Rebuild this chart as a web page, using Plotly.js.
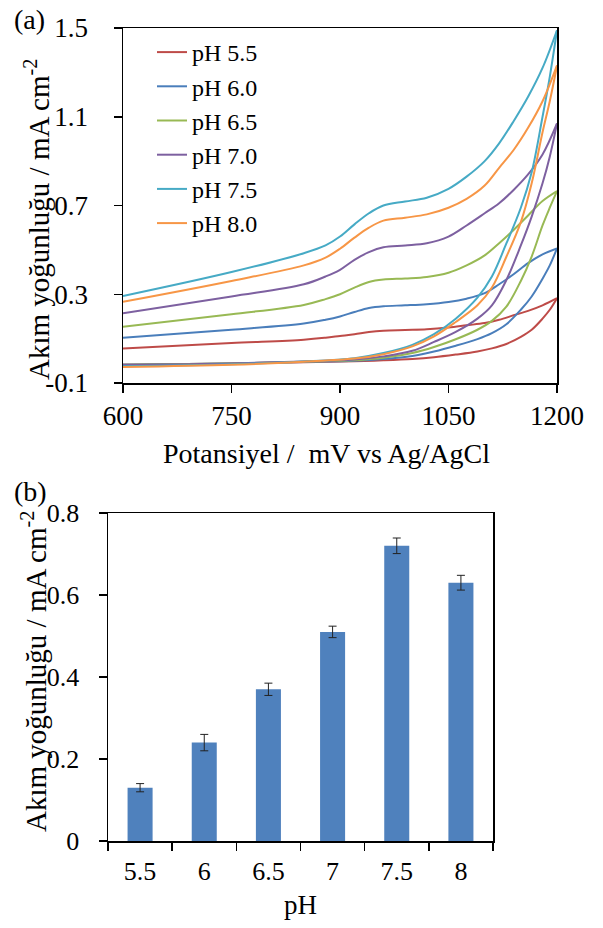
<!DOCTYPE html>
<html>
<head>
<meta charset="utf-8">
<script src="https://cdn.plot.ly/plotly-3.0.1.min.js"></script>
<style>html,body{margin:0;padding:0;background:#fff;}#chart{width:603px;height:928px;}</style>
</head>
<body>
<div id="chart"></div>
<script>
// ---- Panel (a): cyclic voltammograms (forward scan 600->1200, reverse scan 1200->600) ----
const phLabels = ['pH 5.5', 'pH 6.0', 'pH 6.5', 'pH 7.0', 'pH 7.5', 'pH 8.0'];
const fwdPotential = [600, 750, 850, 920, 960, 1000, 1030, 1060, 1090, 1110, 1130, 1150, 1165, 1180, 1190, 1200];
const revPotential = [1200, 1180, 1160, 1140, 1120, 1100, 1075, 1050, 1020, 990, 960, 940, 920, 900, 880, 850, 750, 600];

const fwd55 = [-0.018, -0.012, -0.006, -0.002, 0.002, 0.008, 0.016, 0.028, 0.042, 0.056, 0.076, 0.108, 0.14, 0.19, 0.23, 0.282];
const fwd60 = [-0.018, -0.012, -0.005, 0.0, 0.008, 0.022, 0.042, 0.068, 0.098, 0.125, 0.165, 0.23, 0.29, 0.37, 0.43, 0.507];
const fwd65 = [-0.018, -0.012, -0.004, 0.003, 0.014, 0.035, 0.062, 0.097, 0.14, 0.18, 0.244, 0.36, 0.47, 0.61, 0.69, 0.765];
const fwd70 = [-0.018, -0.012, -0.003, 0.006, 0.02, 0.045, 0.085, 0.13, 0.19, 0.25, 0.364, 0.52, 0.65, 0.8, 0.92, 1.07];
const fwd75 = [-0.024, -0.015, -0.003, 0.012, 0.035, 0.072, 0.12, 0.19, 0.285, 0.38, 0.529, 0.69, 0.85, 1.1, 1.28, 1.49];
const fwd80 = [-0.028, -0.018, -0.004, 0.01, 0.03, 0.065, 0.11, 0.175, 0.25, 0.33, 0.469, 0.625, 0.8, 1.03, 1.17, 1.33];

const rev55 = [0.282, 0.25, 0.225, 0.205, 0.185, 0.17, 0.16, 0.15, 0.142, 0.139, 0.136, 0.13, 0.12, 0.112, 0.104, 0.095, 0.08, 0.056];
const rev60 = [0.507, 0.48, 0.44, 0.39, 0.345, 0.305, 0.28, 0.265, 0.255, 0.25, 0.246, 0.238, 0.22, 0.2, 0.185, 0.168, 0.14, 0.104];
const rev65 = [0.765, 0.72, 0.655, 0.59, 0.53, 0.475, 0.43, 0.397, 0.378, 0.371, 0.366, 0.355, 0.33, 0.3, 0.278, 0.252, 0.21, 0.154];
const rev70 = [1.07, 0.93, 0.84, 0.77, 0.71, 0.665, 0.61, 0.56, 0.53, 0.52, 0.512, 0.49, 0.455, 0.41, 0.38, 0.345, 0.29, 0.214];
const rev75 = [1.49, 1.32, 1.19, 1.08, 0.98, 0.9, 0.83, 0.775, 0.735, 0.718, 0.7, 0.665, 0.615, 0.56, 0.52, 0.485, 0.4, 0.292];
const rev80 = [1.332, 1.17, 1.05, 0.95, 0.87, 0.79, 0.73, 0.69, 0.66, 0.645, 0.632, 0.6, 0.555, 0.505, 0.465, 0.43, 0.36, 0.266];

const xTickVals = [600, 750, 900, 1050, 1200];
const yTickVals = [-0.1, 0.3, 0.7, 1.1, 1.5];
const yTickText = ['-0.1', '0.3', '0.7', '1.1', '1.5'];

// ---- Panel (b): current density vs pH ----
const phCategories = ['5.5', '6', '6.5', '7', '7.5', '8'];
const peakCurrent = [0.13, 0.24, 0.37, 0.51, 0.72, 0.63];
const peakError = [0.01, 0.02, 0.015, 0.014, 0.019, 0.018];

const colors = ['#BE4B48', '#4A7EBB', '#98B954', '#7D60A0', '#46AAC5', '#F79646'];
const fwdSets = [fwd55, fwd60, fwd65, fwd70, fwd75, fwd80];
const revSets = [rev55, rev60, rev65, rev70, rev75, rev80];

const FONT = 'Liberation Serif, Times New Roman, serif';
const traces = [];
phLabels.forEach((lab, i) => {
  traces.push({
    x: fwdPotential, y: fwdSets[i], type: 'scatter', mode: 'lines',
    name: lab, legendgroup: lab, showlegend: true,
    line: {color: colors[i], width: 2, shape: 'spline', smoothing: 1},
    xaxis: 'x', yaxis: 'y'
  });
  traces.push({
    x: revPotential, y: revSets[i], type: 'scatter', mode: 'lines',
    name: lab, legendgroup: lab, showlegend: false,
    line: {color: colors[i], width: 2, shape: 'spline', smoothing: 1},
    xaxis: 'x', yaxis: 'y'
  });
});
traces.push({
  x: phCategories, y: peakCurrent, type: 'bar', showlegend: false,
  marker: {color: '#4F81BD'},
  error_y: {type: 'data', array: peakError, visible: true, color: '#222', thickness: 1, width: 4},
  xaxis: 'x2', yaxis: 'y2'
});

const W = 603, H = 928;
const axBase = {
  showgrid: false, zeroline: false, showline: true, linecolor: '#000', linewidth: 1.5,
  mirror: true, ticks: 'outside', ticklen: 8, tickwidth: 1.5, tickcolor: '#000',
  automargin: false
};
const yTitleText = 'Akım yoğunluğu / mA cm<sup>-2</sup>';

const layout = {
  width: W, height: H,
  margin: {l: 0, r: 0, t: 0, b: 0},
  paper_bgcolor: '#fff', plot_bgcolor: '#fff',
  font: {family: FONT, color: '#000'},
  showlegend: true,
  legend: {x: 152/W, y: 1 - 30/H, xanchor: 'left', yanchor: 'top', bgcolor: 'rgba(0,0,0,0)',
           font: {family: FONT, size: 24, color: '#000'}, tracegroupgap: 0, itemwidth: 30},
  xaxis: Object.assign({}, axBase, {
    domain: [123/W, 557/W], range: [600, 1200], tickmode: 'array',
    tickvals: xTickVals, anchor: 'y', ticklabelstandoff: 0,
    tickfont: {family: FONT, size: 27, color: '#000'}
  }),
  yaxis: Object.assign({}, axBase, {
    domain: [1 - 383/H, 1 - 28/H], range: [-0.1, 1.5], tickmode: 'array',
    tickvals: yTickVals, ticktext: yTickText, anchor: 'x', ticklabelstandoff: 20,
    tickfont: {family: FONT, size: 27, color: '#000'}
  }),
  xaxis2: Object.assign({}, axBase, {
    domain: [108/W, 493/W], type: 'category', tickson: 'boundaries', anchor: 'y2',
    ticklabelstandoff: 6, tickfont: {family: FONT, size: 26, color: '#000'},
    title: {text: 'pH', font: {family: FONT, size: 27, color: '#000'}, standoff: 10}
  }),
  yaxis2: Object.assign({}, axBase, {
    domain: [1 - 841/H, 1 - 513/H], range: [0, 0.8], dtick: 0.2, tick0: 0, anchor: 'x2',
    ticklabelstandoff: 14, tickfont: {family: FONT, size: 26, color: '#000'}
  }),
  bargap: 0.61,
  annotations: [
    {text: '(a)', x: 12/W, y: 1 - 2/H, xref: 'paper', yref: 'paper', xanchor: 'left', yanchor: 'top',
     showarrow: false, font: {family: FONT, size: 28, color: '#000'}},
    {text: '(b)', x: 12/W, y: 1 - 474/H, xref: 'paper', yref: 'paper', xanchor: 'left', yanchor: 'top',
     showarrow: false, font: {family: FONT, size: 28, color: '#000'}},
    {text: 'Potansiyel /  mV vs Ag/AgCl', x: 326/W, y: 1 - 453/H, xref: 'paper', yref: 'paper',
     xanchor: 'center', yanchor: 'middle', showarrow: false, font: {family: FONT, size: 28, color: '#000'}},
    {text: yTitleText, x: 37/W, y: 1 - 220/H, xref: 'paper', yref: 'paper', textangle: -90,
     xanchor: 'center', yanchor: 'middle', showarrow: false, font: {family: FONT, size: 29, color: '#000'}},
    {text: yTitleText, x: 34/W, y: 1 - 672/H, xref: 'paper', yref: 'paper', textangle: -90,
     xanchor: 'center', yanchor: 'middle', showarrow: false, font: {family: FONT, size: 29, color: '#000'}}
  ]
};

Plotly.newPlot('chart', traces, layout, {displayModeBar: false, staticPlot: true});
</script>
</body>
</html>
